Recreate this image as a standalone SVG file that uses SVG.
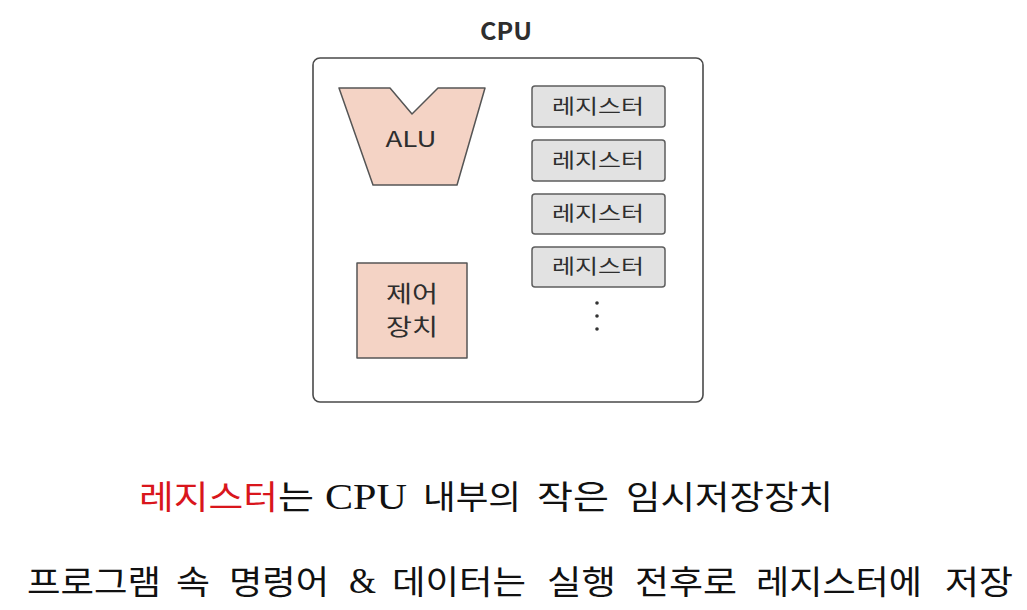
<svg xmlns="http://www.w3.org/2000/svg" width="1027" height="610" viewBox="0 0 1027 610">
<style>
.box{fill:#ffffff;stroke:#4a4a4a;stroke-width:1.6}
.peach{fill:#f4d3c5;stroke:#555;stroke-width:1.5;stroke-linejoin:round}
.reg{fill:#e2e2e2;stroke:#5e5e5e;stroke-width:1.5}
.lbl{font-family:"Noto Sans CJK KR","Noto Sans",sans-serif;fill:#2e2e2e;text-anchor:middle}
.cap{font-family:"Noto Sans CJK KR","Noto Sans CJK SC",sans-serif;fill:#111;font-size:33px}
.ser{font-family:"Liberation Serif","DejaVu Serif",serif;fill:#111;font-size:35px}
.red{fill:#d9161c}
.dot{fill:#333}
</style>
<rect width="1027" height="610" fill="#ffffff"/>
<g id="cpu">
<rect class="box" x="313" y="58" width="390" height="344" rx="7"/>
<text class="lbl" x="506" y="40" font-size="24" font-weight="bold" textLength="52" lengthAdjust="spacingAndGlyphs">CPU</text>
</g>
<g id="alu">
<polygon class="peach" points="339,88 390,88 412,114 438,88 485,88 457,185 373,185"/>
<text class="lbl" x="411" y="147" font-size="21" textLength="51" lengthAdjust="spacingAndGlyphs">ALU</text>
</g>
<g id="control">
<rect class="peach" x="357" y="263" width="110" height="95"/>
<text class="lbl" x="412" y="302" font-size="23" textLength="52" lengthAdjust="spacingAndGlyphs">제어</text>
<text class="lbl" x="412" y="335" font-size="23" textLength="52" lengthAdjust="spacingAndGlyphs">장치</text>
</g>
<g id="reg1">
<rect class="reg" x="532" y="86" width="133" height="41" rx="3"/>
<text class="lbl" x="598" y="114" font-size="20" textLength="92" lengthAdjust="spacingAndGlyphs">레지스터</text>
</g>
<g id="reg2">
<rect class="reg" x="532" y="140" width="133" height="41" rx="3"/>
<text class="lbl" x="598" y="168" font-size="20" textLength="92" lengthAdjust="spacingAndGlyphs">레지스터</text>
</g>
<g id="reg3">
<rect class="reg" x="532" y="194" width="133" height="40" rx="3"/>
<text class="lbl" x="598" y="221" font-size="20" textLength="92" lengthAdjust="spacingAndGlyphs">레지스터</text>
</g>
<g id="reg4">
<rect class="reg" x="532" y="247" width="133" height="40" rx="3"/>
<text class="lbl" x="598" y="274" font-size="20" textLength="92" lengthAdjust="spacingAndGlyphs">레지스터</text>
</g>
<g id="dots">
<circle class="dot" cx="597" cy="303" r="1.8"/>
<circle class="dot" cx="597" cy="316" r="1.8"/>
<circle class="dot" cx="597" cy="329" r="1.8"/>
</g>
<g id="connectors"></g>
<g id="caption">
<text class="cap red" x="139" y="509" textLength="139" lengthAdjust="spacingAndGlyphs">레지스터</text>
<text class="cap" x="278" y="509" textLength="36" lengthAdjust="spacingAndGlyphs">는</text>
<text class="ser" x="325" y="509" textLength="82" lengthAdjust="spacingAndGlyphs">CPU</text>
<text class="cap" x="423" y="509" textLength="98" lengthAdjust="spacingAndGlyphs">내부의</text>
<text class="cap" x="537" y="509" textLength="72" lengthAdjust="spacingAndGlyphs">작은</text>
<text class="cap" x="626" y="509" textLength="207" lengthAdjust="spacingAndGlyphs">임시저장장치</text>
<text class="cap" x="27" y="594" textLength="134" lengthAdjust="spacingAndGlyphs">프로그램</text>
<text class="cap" x="176" y="594" textLength="34" lengthAdjust="spacingAndGlyphs">속</text>
<text class="cap" x="229" y="594" textLength="100" lengthAdjust="spacingAndGlyphs">명령어</text>
<text class="ser" x="349" y="593" textLength="27" lengthAdjust="spacingAndGlyphs">&amp;</text>
<text class="cap" x="392" y="594" textLength="134" lengthAdjust="spacingAndGlyphs">데이터는</text>
<text class="cap" x="547" y="594" textLength="69" lengthAdjust="spacingAndGlyphs">실행</text>
<text class="cap" x="635" y="594" textLength="102" lengthAdjust="spacingAndGlyphs">전후로</text>
<text class="cap" x="756" y="594" textLength="166" lengthAdjust="spacingAndGlyphs">레지스터에</text>
<text class="cap" x="945" y="594" textLength="68" lengthAdjust="spacingAndGlyphs">저장</text>
</g>
</svg>
